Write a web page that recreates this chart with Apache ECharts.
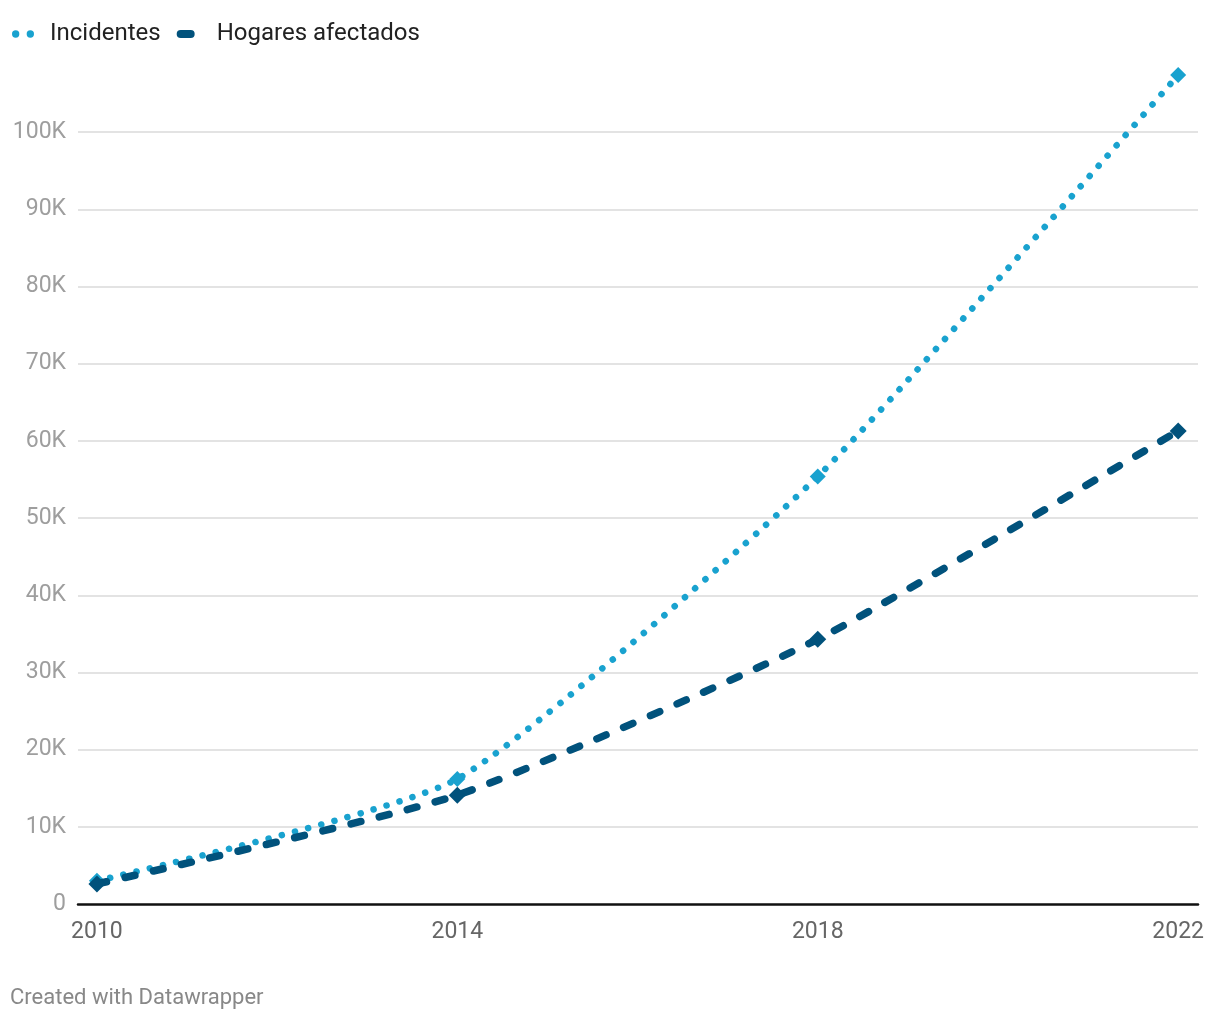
<!DOCTYPE html>
<html><head><meta charset="utf-8">
<script src="https://cdn.jsdelivr.net/npm/echarts@6/dist/echarts.min.js"></script>
<style>html,body{margin:0;padding:0;background:#fff}#c{width:1220px;height:1020px}</style>
</head><body><div id="c"></div>
<script>
const years = [2010, 2014, 2018, 2022];
const incidentes = [3000, 16200, 55400, 107400];
const hogares = [2600, 14100, 34300, 61300];
const xTickLabels = [2010, 2014, 2018, 2022];

const cLight = '#19a2cf';
const cDark = '#01527c';
const font = 'Roboto';

const chart = echarts.init(document.getElementById('c'));
chart.setOption({
  animation: false,
  textStyle: { fontFamily: font },
  legend: {
    left: 7, top: 17,
    itemGap: 16,
    itemWidth: 22, itemHeight: 8,
    textStyle: { fontSize: 24, color: '#222', fontFamily: font, padding: [0, 0, 0, 11] },
    data: [
      { name: 'Incidentes', icon: 'path://M0,3.5a3.5,3.5 0 1,0 7,0a3.5,3.5 0 1,0 -7,0M14,3.5a3.5,3.5 0 1,0 7,0a3.5,3.5 0 1,0 -7,0', itemStyle: { color: cLight } },
      { name: 'Hogares afectados', icon: 'path://M4,0H14A4,4 0 0,1 14,8H4A4,4 0 0,1 4,0Z', itemStyle: { color: cDark },
        textStyle: { fontSize: 24, color: '#222', fontFamily: font, padding: [0, 0, 0, 15] } }
    ]
  },
  grid: { left: 78, right: 22, top: 55, bottom: 116, containLabel: false },
  xAxis: {
    type: 'value',
    min: 2009.79, max: 2022.22,
    axisLine: { show: true, onZero: false, lineStyle: { color: '#111', width: 2.5 } },
    axisTick: { show: false },
    splitLine: { show: false },
    axisLabel: {
      customValues: xTickLabels,
      formatter: v => String(v),
      color: '#666', fontSize: 23, margin: 17, fontFamily: font
    }
  },
  yAxis: {
    type: 'value',
    min: 0, max: 110000, interval: 10000,
    axisLine: { show: false },
    axisTick: { show: false },
    splitLine: { show: true, showMinLine: false, showMaxLine: false, lineStyle: { color: '#e3e3e3', width: 2 } },
    axisLabel: {
      showMaxLabel: false,
      formatter: v => v === 0 ? '0' : (v / 1000) + 'K',
      color: '#9e9e9e', fontSize: 23, margin: 12, fontFamily: font
    }
  },
  series: [
    {
      name: 'Incidentes', type: 'line', z: 2,
      data: years.map((y, i) => [y, incidentes[i]]),
      smooth: 0.18,
      symbol: 'diamond', symbolSize: 16,
      itemStyle: { color: cLight },
      lineStyle: { color: cLight, width: 6.5, type: [0.1, 13.5], cap: 'round' }
    },
    {
      name: 'Hogares afectados', type: 'line', z: 3,
      data: years.map((y, i) => [y, hogares[i]]),
      smooth: 0.18,
      symbol: 'diamond', symbolSize: 17,
      itemStyle: { color: cDark },
      lineStyle: { color: cDark, width: 7.5, type: [10, 19], cap: 'round' }
    }
  ],
  graphic: [
    { type: 'text', left: 10, top: 987, style: { text: 'Created with Datawrapper', fontSize: 22, fill: '#888', fontFamily: font } }
  ]
});
</script></body></html>
